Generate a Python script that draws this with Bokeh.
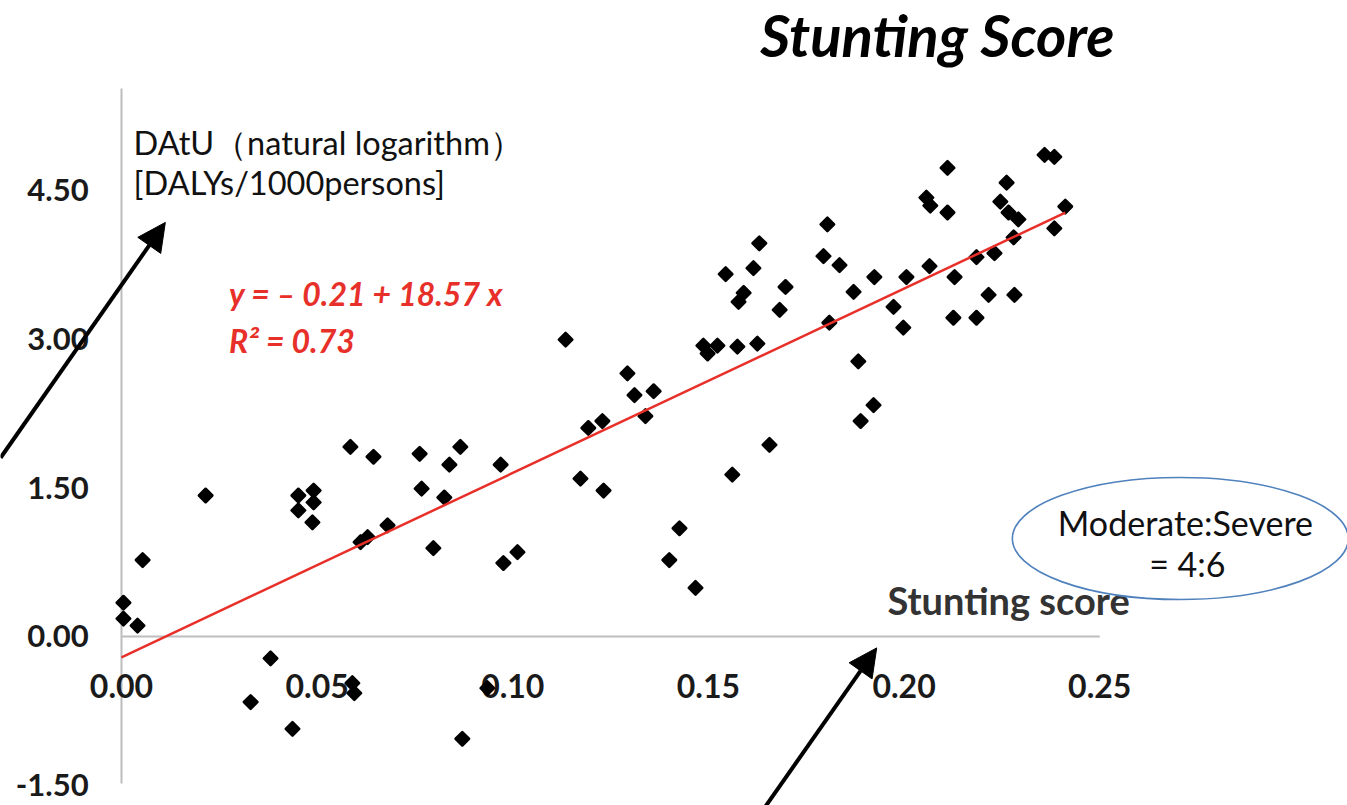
import numpy as np
from bokeh.plotting import figure
from bokeh.models import Range1d, Arrow, NormalHead
from bokeh.core.properties import value
from bokeh.embed import file_html
from bokeh.resources import INLINE

# ---- data (stunting score vs DAtU, natural log) ----
stunting = [0.0215, 0.0054, 0.0005, 0.0005, 0.0041, 0.0381, 0.0330, 0.0437, 0.0452, 0.0452,
            0.0491, 0.0491, 0.0488, 0.0585, 0.0644, 0.0611, 0.0629, 0.0680, 0.0762, 0.0767,
            0.0838, 0.0866, 0.0825, 0.0797, 0.0969, 0.0976, 0.1012, 0.0590, 0.0595, 0.0935,
            0.0871, 0.1135, 0.1293, 0.1311, 0.1360, 0.1339, 0.1193, 0.1229, 0.1173, 0.1232,
            0.1426, 0.1400, 0.1467, 0.1561, 0.1656, 0.1487, 0.1498, 0.1523, 0.1574, 0.1625,
            0.1544, 0.1590, 0.1577, 0.1615, 0.1630, 0.1697, 0.1682, 0.1794, 0.1835, 0.1809,
            0.1804, 0.1871, 0.1924, 0.1973, 0.1998, 0.2006, 0.2065, 0.2111, 0.2057, 0.2067,
            0.2111, 0.2129, 0.2126, 0.2185, 0.2185, 0.2231, 0.2216, 0.2282, 0.2246, 0.2262,
            0.2267, 0.2292, 0.2280, 0.2359, 0.2384, 0.2412, 0.2384, 0.1883, 0.1922, 0.1889]
datu = [1.42, 0.77, 0.34, 0.18, 0.11, -0.22, -0.66, -0.93, 1.42, 1.27,
        1.47, 1.35, 1.15, 1.91, 1.81, 0.95, 1.00, 1.12, 1.84, 1.49,
        1.73, 1.91, 1.40, 0.89, 1.73, 0.74, 0.85, -0.47, -0.57, -0.52,
        -1.03, 2.99, 2.65, 2.43, 2.47, 2.22, 2.10, 2.17, 1.59, 1.47,
        1.09, 0.77, 0.49, 1.63, 1.93, 2.93, 2.85, 2.93, 2.92, 2.95,
        3.65, 3.46, 3.37, 3.71, 3.96, 3.52, 3.29, 3.83, 3.74, 3.16,
        4.15, 3.47, 3.62, 3.32, 3.11, 3.62, 3.73, 4.72, 4.42, 4.34,
        4.27, 3.62, 3.21, 3.21, 3.82, 3.86, 3.44, 3.44, 4.38, 4.57,
        4.27, 4.20, 4.02, 4.85, 4.83, 4.33, 4.11, 2.77, 2.33, 2.17]
intercept = -0.21
slope = 18.57
r_squared = 0.73

x_ticks = [0.00, 0.05, 0.10, 0.15, 0.20, 0.25]
x_tick_labels = ["0.00", "0.05", "0.10", "0.15", "0.20", "0.25"]
y_ticks = [-1.50, 0.00, 1.50, 3.00, 4.50]
y_tick_labels = ["-1.50", "0.00", "1.50", "3.00", "4.50"]

W, H = 1347, 805
FONT = value("Lato")

p = figure(width=W, height=H, x_range=Range1d(-0.03092, 0.31332), y_range=Range1d(-1.702, 6.405),
           x_axis_type=None, y_axis_type=None, toolbar_location=None, output_backend="svg",
           min_border=0, min_border_left=0, min_border_right=0, min_border_top=0, min_border_bottom=0)
p.grid.visible = False
p.outline_line_color = None
p.background_fill_color = "white"

# axis lines
p.segment(x0=[0.0], y0=[y_ticks[0] + 0.02], x1=[0.0], y1=[5.52], line_color="#bdbdbd", line_width=2)
p.segment(x0=[0.0], y0=[0.0], x1=[x_ticks[-1]], y1=[0.0], line_color="#bdbdbd", line_width=2)

# tick labels
p.text(x=x_ticks, y=[0.0] * len(x_ticks), text=x_tick_labels, text_font=FONT, text_font_size="32px",
       text_font_style="bold", text_align="center", text_baseline="middle", y_offset=50, text_color="#1a1a1a")
p.text(x=[-0.0084] * len(y_ticks), y=y_ticks, text=y_tick_labels, text_font=FONT, text_font_size="31px",
       text_font_style="bold", text_align="right", text_baseline="middle", y_offset=0, text_color="#1a1a1a")

# points
p.scatter(stunting, datu, marker="square", angle=np.pi / 4, size=9.5, fill_color="black",
          line_color="black", line_width=2.6, line_join="round")

# trend line
xl = [0.0, max(stunting)]
yl = [intercept + slope * v for v in xl]
p.line(xl, yl, line_color="#e8302a", line_width=2.5)

# equation
p.text(x=[0.0275], y=[3.454], text=["y = \u2013 0.21 + 18.57 x"], text_font=FONT, text_font_size="32px",
       text_font_style="bold italic", text_color="#e8302a", text_baseline="middle")
p.text(x=[0.0275], y=[2.98], text=["R\u00b2 = 0.73"], text_font=FONT, text_font_size="32px",
       text_font_style="bold italic", text_color="#e8302a", text_baseline="middle")

# axis titles
p.text(x=[0.0031, 0.0031], y=[4.975, 4.572], text=["DAtU\uff08natural logarithm\uff09", "[DALYs/1000persons]"],
       text_font=FONT, text_font_size="32.5px", text_color="#111111", text_baseline="middle")
p.text(x=[0.2267], y=[0.363], text=["Stunting score"], text_font=FONT, text_font_size="38px",
       text_font_style="bold", text_color="#333333", text_align="center", text_baseline="middle")

# title
p.text(x=[0.2085], y=[6.06], text=["Stunting Score"], text_font=FONT, text_font_size="58px",
       text_font_style="bold italic", text_color="black", text_align="center", text_baseline="middle")

# ellipse annotation
p.ellipse(x=[0.2706], y=[0.987], width=[336], height=[122], width_units="screen", height_units="screen",
          fill_color=None, line_color="#4f81bd", line_width=1.6)
p.text(x=[0.2719, 0.2724], y=[1.148, 0.735], text=["Moderate:Severe", "= 4:6"], text_font=FONT,
       text_font_size="34px", text_color="#111111", text_align="center", text_baseline="middle")

# arrows
p.add_layout(Arrow(x_start=-0.0309, y_start=1.80, x_end=0.0112, y_end=4.17, line_width=4, line_color="black",
                   end=NormalHead(size=28, fill_color="black", line_color="black")))
p.add_layout(Arrow(x_start=0.1646, y_start=-1.71, x_end=0.1930, y_end=-0.115, line_width=4, line_color="black",
                   end=NormalHead(size=28, fill_color="black", line_color="black")))

open("out.html", "w").write(file_html(p, INLINE))
